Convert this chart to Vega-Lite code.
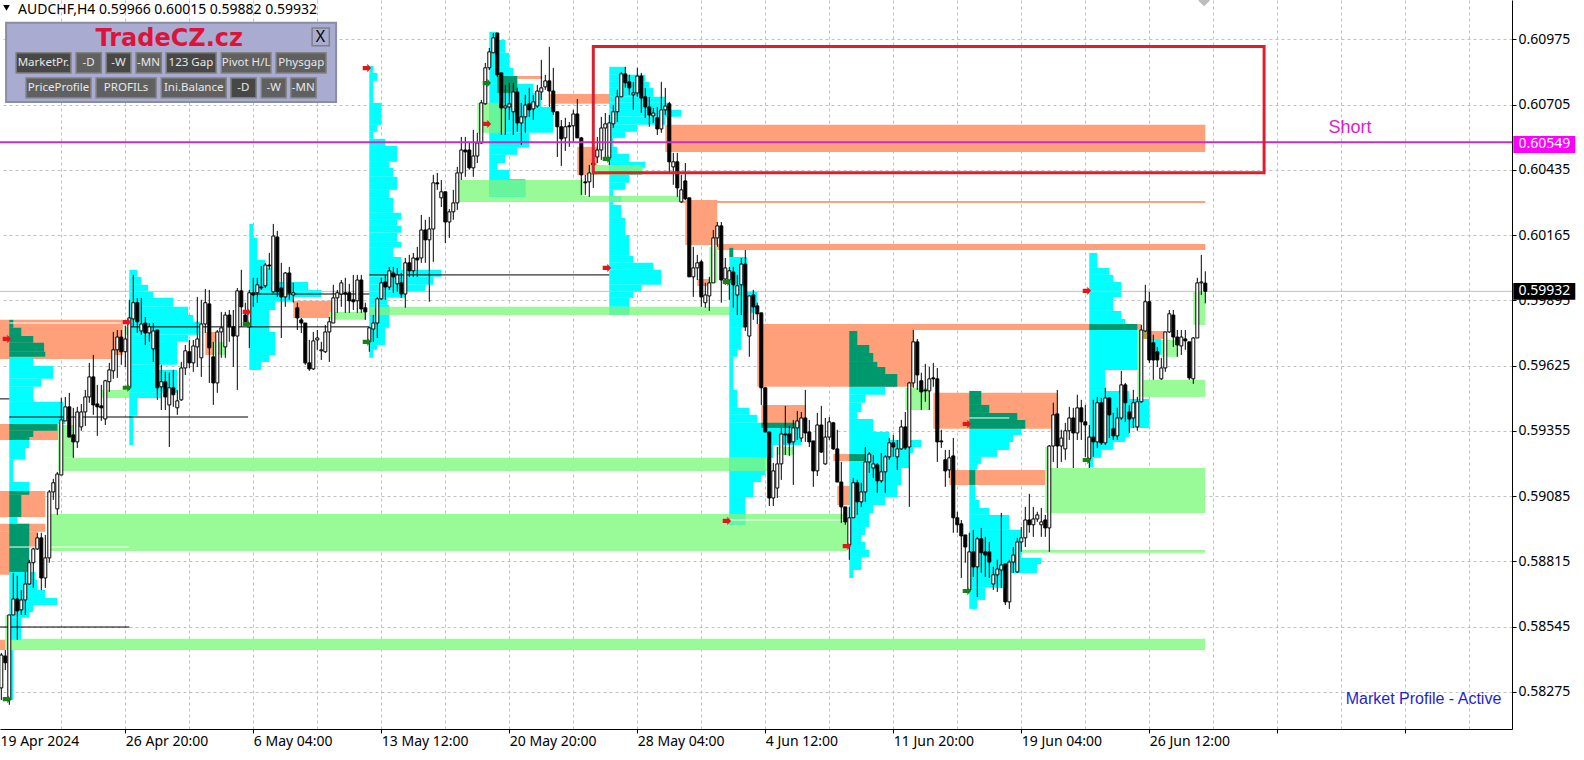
{
"$schema":"https://vega.github.io/schema/vega-lite/v6.json",
"width":1512,"height":729,"autosize":{"type":"none"},"padding":{"left":0,"top":0,"right":72,"bottom":31},
"background":"#ffffff",
"config":{"view":{"stroke":null}},
"datasets":{
"rects":[
{"a":-0.33,"b":30.4,"hi":0.59814,"lo":0.59669,"k":"S"},{"a":-0.33,"b":27.7,"hi":0.59669,"lo":0.59652,"k":"S"},{"a":-0.33,"b":14.2,"hi":0.59383,"lo":0.59317,"k":"S"},{"a":-0.33,"b":11,"hi":0.59106,"lo":0.58998,"k":"S"},{"a":-0.33,"b":11,"hi":0.5897,"lo":0.58937,"k":"S"},{"a":-0.33,"b":9,"hi":0.58937,"lo":0.5887,"k":"S"},{"a":-0.33,"b":6.7,"hi":0.5887,"lo":0.58759,"k":"S"},{"a":-0.33,"b":1,"hi":0.5849,"lo":0.58448,"k":"S"},
{"a":51,"b":54,"hi":0.59764,"lo":0.59669,"k":"S"},{"a":73,"b":82.7,"hi":0.59893,"lo":0.59822,"k":"S"},{"a":144,"b":149,"hi":0.6053,"lo":0.60414,"k":"S"},{"a":137.2,"b":152.2,"hi":0.60749,"lo":0.60708,"k":"S"},{"a":129,"b":135.2,"hi":0.60823,"lo":0.60811,"k":"S"},{"a":166,"b":301,"hi":0.60621,"lo":0.60509,"k":"S"},{"a":170,"b":301,"hi":0.60306,"lo":0.60298,"k":"S"},{"a":171,"b":179,"hi":0.6031,"lo":0.60124,"k":"S"},{"a":179,"b":301,"hi":0.60128,"lo":0.60103,"k":"S"},{"a":174,"b":177,"hi":0.59983,"lo":0.59954,"k":"S"},{"a":189,"b":285,"hi":0.59797,"lo":0.59772,"k":"S"},{"a":189,"b":228,"hi":0.59772,"lo":0.59537,"k":"S"},{"a":190,"b":201,"hi":0.59462,"lo":0.59371,"k":"S"},{"a":233,"b":264,"hi":0.59512,"lo":0.59363,"k":"S"},{"a":237,"b":261,"hi":0.59193,"lo":0.59131,"k":"S"},{"a":286.5,"b":291,"hi":0.59768,"lo":0.59735,"k":"S"},{"a":209,"b":213,"hi":0.59127,"lo":0.59048,"k":"S"},{"a":208,"b":216,"hi":0.59259,"lo":0.5923,"k":"S"},
{"a":1,"b":301,"hi":0.58494,"lo":0.58448,"k":"G"},{"a":11.7,"b":211.5,"hi":0.59011,"lo":0.58858,"k":"G"},{"a":14.2,"b":191.5,"hi":0.59243,"lo":0.59189,"k":"G"},{"a":25,"b":39.7,"hi":0.59524,"lo":0.59491,"k":"G"},{"a":82,"b":91,"hi":0.59847,"lo":0.59814,"k":"G"},{"a":94.7,"b":184,"hi":0.59868,"lo":0.59834,"k":"G"},{"a":114,"b":145.4,"hi":0.60393,"lo":0.60302,"k":"G"},{"a":145.4,"b":170,"hi":0.60327,"lo":0.60302,"k":"G"},{"a":147.2,"b":160.4,"hi":0.60455,"lo":0.60414,"k":"G"},{"a":119,"b":126,"hi":0.60712,"lo":0.60588,"k":"G"},{"a":262,"b":301,"hi":0.59201,"lo":0.59015,"k":"G"},{"a":261,"b":262,"hi":0.59288,"lo":0.59015,"k":"G"},{"a":254.7,"b":301,"hi":0.58862,"lo":0.5885,"k":"G"},{"a":285.5,"b":301,"hi":0.59566,"lo":0.59495,"k":"G"},{"a":284,"b":285.5,"hi":0.59772,"lo":0.59495,"k":"G"},{"a":298,"b":301,"hi":0.5993,"lo":0.59793,"k":"G"},{"a":290,"b":294,"hi":0.59731,"lo":0.59661,"k":"G"},{"a":226,"b":232,"hi":0.59533,"lo":0.59441,"k":"G"},{"a":177,"b":179,"hi":0.60116,"lo":0.59967,"k":"G"},{"a":194,"b":198,"hi":0.59288,"lo":0.59255,"k":"G"},{"a":215,"b":218,"hi":0.59181,"lo":0.59148,"k":"G"},{"a":53,"b":56,"hi":0.59723,"lo":0.59669,"k":"G"},{"a":31,"b":34,"hi":0.59785,"lo":0.59752,"k":"G"},{"a":14.2,"b":18,"hi":0.59379,"lo":0.59243,"k":"G"},{"a":1,"b":3,"hi":0.58593,"lo":0.5849,"k":"G"},
{"a":2,"b":8,"hi":0.59661,"lo":0.59623,"k":"C"},{"a":2,"b":13,"hi":0.59623,"lo":0.5957,"k":"C"},{"a":2,"b":10,"hi":0.5957,"lo":0.59537,"k":"C"},{"a":2,"b":8,"hi":0.59537,"lo":0.59475,"k":"C"},{"a":2,"b":15.5,"hi":0.59475,"lo":0.59412,"k":"C"},{"a":2,"b":16,"hi":0.59412,"lo":0.59383,"k":"C"},{"a":2,"b":7,"hi":0.59317,"lo":0.59284,"k":"C"},{"a":2,"b":6,"hi":0.59284,"lo":0.59235,"k":"C"},{"a":2,"b":3,"hi":0.59235,"lo":0.59143,"k":"C"},{"a":2,"b":7,"hi":0.59143,"lo":0.59106,"k":"C"},{"a":2,"b":4,"hi":0.58998,"lo":0.5897,"k":"C"},{"a":2,"b":8.5,"hi":0.58771,"lo":0.58738,"k":"C"},{"a":2,"b":9,"hi":0.58738,"lo":0.58696,"k":"C"},{"a":2,"b":11,"hi":0.58696,"lo":0.58663,"k":"C"},{"a":2,"b":14,"hi":0.58663,"lo":0.58634,"k":"C"},{"a":2,"b":8,"hi":0.58634,"lo":0.58605,"k":"C"},{"a":2,"b":7,"hi":0.58605,"lo":0.58581,"k":"C"},{"a":2,"b":5,"hi":0.58581,"lo":0.5849,"k":"C"},{"a":2,"b":3,"hi":0.58448,"lo":0.58241,"k":"C"},
{"a":2,"b":3,"hi":0.59814,"lo":0.59781,"k":"T"},{"a":2,"b":5,"hi":0.59781,"lo":0.59747,"k":"T"},{"a":2,"b":8,"hi":0.59747,"lo":0.59719,"k":"T"},{"a":2,"b":10.7,"hi":0.59719,"lo":0.59682,"k":"T"},{"a":2,"b":11,"hi":0.59682,"lo":0.59661,"k":"T"},{"a":2,"b":14,"hi":0.59383,"lo":0.59355,"k":"T"},{"a":2,"b":8,"hi":0.59355,"lo":0.59329,"k":"T"},{"a":2,"b":7,"hi":0.59329,"lo":0.59317,"k":"T"},{"a":2,"b":7,"hi":0.59106,"lo":0.5909,"k":"T"},{"a":2,"b":5,"hi":0.5909,"lo":0.58998,"k":"T"},{"a":2,"b":7,"hi":0.5897,"lo":0.58771,"k":"T"},
{"a":32,"b":34,"hi":0.60021,"lo":0.59992,"k":"C"},{"a":32,"b":35,"hi":0.59992,"lo":0.59959,"k":"C"},{"a":32,"b":36.7,"hi":0.59959,"lo":0.5993,"k":"C"},{"a":32,"b":38,"hi":0.5993,"lo":0.59905,"k":"C"},{"a":32,"b":43,"hi":0.59905,"lo":0.59868,"k":"C"},{"a":32,"b":46.7,"hi":0.59868,"lo":0.59834,"k":"C"},{"a":32,"b":48,"hi":0.59834,"lo":0.59806,"k":"C"},{"a":32,"b":49.7,"hi":0.59806,"lo":0.59752,"k":"C"},{"a":32,"b":46.7,"hi":0.59752,"lo":0.59723,"k":"C"},{"a":32,"b":44,"hi":0.59723,"lo":0.59628,"k":"C"},{"a":32,"b":39,"hi":0.59628,"lo":0.59607,"k":"C"},{"a":32,"b":44,"hi":0.59607,"lo":0.59512,"k":"C"},{"a":32,"b":40,"hi":0.59512,"lo":0.59491,"k":"C"},{"a":32,"b":34,"hi":0.59491,"lo":0.59417,"k":"C"},{"a":32,"b":33,"hi":0.59417,"lo":0.59296,"k":"C"},
{"a":62,"b":63,"hi":0.60211,"lo":0.60153,"k":"C"},{"a":62,"b":64,"hi":0.60153,"lo":0.60062,"k":"C"},{"a":62,"b":66,"hi":0.60062,"lo":0.60029,"k":"C"},{"a":62,"b":68.5,"hi":0.60029,"lo":0.59971,"k":"C"},{"a":62,"b":76.7,"hi":0.59971,"lo":0.59938,"k":"C"},{"a":62,"b":80,"hi":0.59938,"lo":0.59909,"k":"C"},{"a":62,"b":73,"hi":0.59909,"lo":0.59889,"k":"C"},{"a":62,"b":68.5,"hi":0.59889,"lo":0.59855,"k":"C"},{"a":62,"b":67,"hi":0.59855,"lo":0.59764,"k":"C"},{"a":62,"b":68.5,"hi":0.59764,"lo":0.59669,"k":"C"},{"a":62,"b":67,"hi":0.59669,"lo":0.5964,"k":"C"},{"a":62,"b":65,"hi":0.5964,"lo":0.59607,"k":"C"},
{"a":92,"b":93,"hi":0.60865,"lo":0.60836,"k":"C"},{"a":92,"b":94,"hi":0.60836,"lo":0.60803,"k":"C"},{"a":92,"b":93,"hi":0.60803,"lo":0.60712,"k":"C"},{"a":92,"b":95,"hi":0.60712,"lo":0.60621,"k":"C"},{"a":92,"b":94,"hi":0.60621,"lo":0.60592,"k":"C"},{"a":92,"b":93,"hi":0.60592,"lo":0.60563,"k":"C"},{"a":92,"b":96,"hi":0.60563,"lo":0.60534,"k":"C"},{"a":92,"b":99,"hi":0.60534,"lo":0.60468,"k":"C"},{"a":92,"b":97,"hi":0.60468,"lo":0.60443,"k":"C"},{"a":92,"b":98,"hi":0.60443,"lo":0.60406,"k":"C"},{"a":92,"b":99,"hi":0.60406,"lo":0.60352,"k":"C"},{"a":92,"b":97,"hi":0.60352,"lo":0.60319,"k":"C"},{"a":92,"b":98,"hi":0.60319,"lo":0.60257,"k":"C"},{"a":92,"b":100,"hi":0.60257,"lo":0.60228,"k":"C"},{"a":92,"b":99,"hi":0.60228,"lo":0.60203,"k":"C"},{"a":92,"b":100,"hi":0.60203,"lo":0.60174,"k":"C"},{"a":92,"b":99,"hi":0.60174,"lo":0.60137,"k":"C"},{"a":92,"b":100,"hi":0.60137,"lo":0.60112,"k":"C"},{"a":92,"b":98,"hi":0.60112,"lo":0.60074,"k":"C"},{"a":92,"b":100,"hi":0.60074,"lo":0.60021,"k":"C"},{"a":92,"b":110,"hi":0.60021,"lo":0.59992,"k":"C"},{"a":92,"b":108,"hi":0.59992,"lo":0.59959,"k":"C"},{"a":92,"b":106,"hi":0.59959,"lo":0.5993,"k":"C"},{"a":92,"b":101,"hi":0.5993,"lo":0.59905,"k":"C"},{"a":92,"b":96.5,"hi":0.59905,"lo":0.59876,"k":"C"},{"a":92,"b":97,"hi":0.59876,"lo":0.59781,"k":"C"},{"a":92,"b":96,"hi":0.59781,"lo":0.5971,"k":"C"},{"a":92,"b":94,"hi":0.5971,"lo":0.5969,"k":"C"},{"a":92,"b":93,"hi":0.5969,"lo":0.59657,"k":"C"},
{"a":122,"b":124,"hi":0.61006,"lo":0.60972,"k":"C"},{"a":122,"b":126,"hi":0.60972,"lo":0.60919,"k":"C"},{"a":122,"b":127,"hi":0.60919,"lo":0.60857,"k":"C"},{"a":122,"b":128,"hi":0.60857,"lo":0.60823,"k":"C"},{"a":122,"b":129,"hi":0.60823,"lo":0.60791,"k":"C"},{"a":122,"b":133,"hi":0.60791,"lo":0.60753,"k":"C"},{"a":122,"b":135,"hi":0.60753,"lo":0.60695,"k":"C"},{"a":122,"b":138,"hi":0.60695,"lo":0.60588,"k":"C"},{"a":122,"b":132,"hi":0.60588,"lo":0.60526,"k":"C"},{"a":122,"b":129,"hi":0.60526,"lo":0.60497,"k":"C"},{"a":122,"b":126,"hi":0.60497,"lo":0.60463,"k":"C"},{"a":122,"b":124,"hi":0.60463,"lo":0.60435,"k":"C"},{"a":122,"b":127,"hi":0.60435,"lo":0.60397,"k":"C"},{"a":122,"b":131,"hi":0.60397,"lo":0.60323,"k":"C"},
{"a":124,"b":129,"hi":0.60823,"lo":0.60753,"k":"T"},{"a":122,"b":131,"hi":0.60393,"lo":0.60323,"k":"M"},{"a":122,"b":126,"hi":0.60712,"lo":0.60588,"k":"M"},
{"a":152,"b":156,"hi":0.60861,"lo":0.60828,"k":"C"},{"a":152,"b":161,"hi":0.60828,"lo":0.60799,"k":"C"},{"a":152,"b":162,"hi":0.60799,"lo":0.60774,"k":"C"},{"a":152,"b":163,"hi":0.60774,"lo":0.60737,"k":"C"},{"a":152,"b":166,"hi":0.60737,"lo":0.60712,"k":"C"},{"a":152,"b":167,"hi":0.60712,"lo":0.60683,"k":"C"},{"a":152,"b":170,"hi":0.60683,"lo":0.60654,"k":"C"},{"a":152,"b":166,"hi":0.60654,"lo":0.60621,"k":"C"},{"a":152,"b":159,"hi":0.60621,"lo":0.60592,"k":"C"},{"a":152,"b":156,"hi":0.60592,"lo":0.60567,"k":"C"},{"a":152,"b":153,"hi":0.60567,"lo":0.6053,"k":"C"},{"a":152,"b":154,"hi":0.6053,"lo":0.60501,"k":"C"},{"a":152,"b":157,"hi":0.60501,"lo":0.60468,"k":"C"},{"a":152,"b":161,"hi":0.60468,"lo":0.60443,"k":"C"},{"a":152,"b":160,"hi":0.60443,"lo":0.60414,"k":"C"},{"a":152,"b":157,"hi":0.60414,"lo":0.60381,"k":"C"},{"a":152,"b":156,"hi":0.60381,"lo":0.60352,"k":"C"},{"a":152,"b":153,"hi":0.60352,"lo":0.6029,"k":"C"},{"a":152,"b":155,"hi":0.6029,"lo":0.60236,"k":"C"},{"a":152,"b":156,"hi":0.60236,"lo":0.60165,"k":"C"},{"a":152,"b":157,"hi":0.60165,"lo":0.60079,"k":"C"},{"a":152,"b":158,"hi":0.60079,"lo":0.6005,"k":"C"},{"a":152,"b":163,"hi":0.6005,"lo":0.60021,"k":"C"},{"a":152,"b":165,"hi":0.60021,"lo":0.59959,"k":"C"},{"a":152,"b":160,"hi":0.59959,"lo":0.5993,"k":"C"},{"a":152,"b":158,"hi":0.5993,"lo":0.59905,"k":"C"},{"a":152,"b":157,"hi":0.59905,"lo":0.59868,"k":"C"},
{"a":152,"b":157,"hi":0.59868,"lo":0.59834,"k":"M"},{"a":152,"b":155,"hi":0.60327,"lo":0.60302,"k":"M"},{"a":152,"b":160,"hi":0.60455,"lo":0.60414,"k":"M"},{"a":92,"b":97,"hi":0.59868,"lo":0.59834,"k":"M"},
{"a":182,"b":186.5,"hi":0.60074,"lo":0.59959,"k":"C"},{"a":182,"b":186,"hi":0.59959,"lo":0.5993,"k":"C"},{"a":182,"b":189,"hi":0.5993,"lo":0.59843,"k":"C"},{"a":182,"b":186,"hi":0.59843,"lo":0.59781,"k":"C"},{"a":182,"b":185,"hi":0.59781,"lo":0.5969,"k":"C"},{"a":182,"b":184,"hi":0.5969,"lo":0.59661,"k":"C"},{"a":182,"b":183,"hi":0.59661,"lo":0.59524,"k":"C"},{"a":182,"b":184,"hi":0.59524,"lo":0.5945,"k":"C"},{"a":182,"b":187,"hi":0.5945,"lo":0.59421,"k":"C"},{"a":182,"b":189,"hi":0.59421,"lo":0.59388,"k":"C"},{"a":182,"b":191,"hi":0.59388,"lo":0.59243,"k":"C"},{"a":182,"b":190,"hi":0.59243,"lo":0.59193,"k":"C"},{"a":182,"b":191,"hi":0.59193,"lo":0.59172,"k":"C"},{"a":182,"b":190,"hi":0.59172,"lo":0.59143,"k":"C"},{"a":182,"b":188,"hi":0.59143,"lo":0.59081,"k":"C"},{"a":182,"b":186,"hi":0.59081,"lo":0.58966,"k":"C"},{"a":190,"b":200,"hi":0.59367,"lo":0.59296,"k":"C"},{"a":190,"b":193,"hi":0.59296,"lo":0.59243,"k":"C"},
{"a":182,"b":183,"hi":0.60112,"lo":0.60074,"k":"T"},{"a":190,"b":198.5,"hi":0.59388,"lo":0.59367,"k":"T"},{"a":182,"b":186,"hi":0.59011,"lo":0.58966,"k":"M"},{"a":182,"b":191,"hi":0.59243,"lo":0.59189,"k":"M"},
{"a":212,"b":221,"hi":0.59537,"lo":0.59504,"k":"C"},{"a":212,"b":216,"hi":0.59504,"lo":0.59471,"k":"C"},{"a":212,"b":215,"hi":0.59471,"lo":0.59433,"k":"C"},{"a":212,"b":214,"hi":0.59433,"lo":0.59404,"k":"C"},{"a":212,"b":218,"hi":0.59404,"lo":0.5935,"k":"C"},{"a":212,"b":222,"hi":0.5935,"lo":0.59317,"k":"C"},{"a":212,"b":230,"hi":0.59317,"lo":0.59288,"k":"C"},{"a":212,"b":228,"hi":0.59288,"lo":0.59263,"k":"C"},{"a":212,"b":227,"hi":0.59263,"lo":0.59201,"k":"C"},{"a":212,"b":225,"hi":0.59201,"lo":0.59131,"k":"C"},{"a":212,"b":224,"hi":0.59131,"lo":0.59081,"k":"C"},{"a":212,"b":221,"hi":0.59081,"lo":0.59048,"k":"C"},{"a":212,"b":218,"hi":0.59048,"lo":0.59015,"k":"C"},{"a":212,"b":217,"hi":0.59015,"lo":0.58957,"k":"C"},{"a":212,"b":216,"hi":0.58957,"lo":0.58924,"k":"C"},{"a":212,"b":215,"hi":0.58924,"lo":0.58895,"k":"C"},{"a":212,"b":216,"hi":0.58895,"lo":0.58862,"k":"C"},{"a":212,"b":217,"hi":0.58862,"lo":0.58833,"k":"C"},{"a":212,"b":215,"hi":0.58833,"lo":0.58779,"k":"C"},{"a":212,"b":213,"hi":0.58779,"lo":0.58746,"k":"C"},
{"a":212,"b":214,"hi":0.59768,"lo":0.5971,"k":"T"},{"a":212,"b":217,"hi":0.5971,"lo":0.59677,"k":"T"},{"a":212,"b":218,"hi":0.59677,"lo":0.5964,"k":"T"},{"a":212,"b":219,"hi":0.5964,"lo":0.59619,"k":"T"},{"a":212,"b":221,"hi":0.59619,"lo":0.5959,"k":"T"},{"a":212,"b":224,"hi":0.5959,"lo":0.59537,"k":"T"},{"a":212,"b":216,"hi":0.59259,"lo":0.5923,"k":"T"},
{"a":242,"b":255,"hi":0.59363,"lo":0.59338,"k":"C"},{"a":242,"b":253,"hi":0.59338,"lo":0.59309,"k":"C"},{"a":242,"b":252,"hi":0.59309,"lo":0.59276,"k":"C"},{"a":242,"b":249,"hi":0.59276,"lo":0.59247,"k":"C"},{"a":242,"b":245,"hi":0.59247,"lo":0.59218,"k":"C"},{"a":242,"b":244,"hi":0.59218,"lo":0.59193,"k":"C"},{"a":242,"b":243.5,"hi":0.59131,"lo":0.59069,"k":"C"},{"a":242,"b":244.5,"hi":0.59069,"lo":0.59036,"k":"C"},{"a":242,"b":247,"hi":0.59036,"lo":0.59007,"k":"C"},{"a":242,"b":252,"hi":0.59007,"lo":0.58945,"k":"C"},{"a":242,"b":255,"hi":0.58945,"lo":0.58829,"k":"C"},{"a":242,"b":260,"hi":0.58829,"lo":0.58804,"k":"C"},{"a":242,"b":259,"hi":0.58804,"lo":0.58767,"k":"C"},{"a":242,"b":252,"hi":0.58767,"lo":0.58705,"k":"C"},{"a":242,"b":246,"hi":0.58705,"lo":0.58655,"k":"C"},{"a":242,"b":244,"hi":0.58655,"lo":0.58618,"k":"C"},
{"a":242,"b":245,"hi":0.5952,"lo":0.59462,"k":"T"},{"a":242,"b":247,"hi":0.59462,"lo":0.59429,"k":"T"},{"a":242,"b":254,"hi":0.59429,"lo":0.594,"k":"T"},{"a":242,"b":256,"hi":0.594,"lo":0.59363,"k":"T"},{"a":242,"b":243.5,"hi":0.59193,"lo":0.59131,"k":"T"},
{"a":272,"b":274,"hi":0.60091,"lo":0.60029,"k":"C"},{"a":272,"b":277,"hi":0.60029,"lo":0.6,"k":"C"},{"a":272,"b":278,"hi":0.6,"lo":0.59971,"k":"C"},{"a":272,"b":280,"hi":0.59971,"lo":0.59909,"k":"C"},{"a":272,"b":278,"hi":0.59909,"lo":0.59851,"k":"C"},{"a":272,"b":280,"hi":0.59851,"lo":0.59818,"k":"C"},{"a":272,"b":281,"hi":0.59818,"lo":0.59797,"k":"C"},{"a":272,"b":284,"hi":0.59772,"lo":0.59607,"k":"C"},{"a":272,"b":276,"hi":0.59607,"lo":0.5952,"k":"C"},{"a":272,"b":282,"hi":0.5952,"lo":0.59487,"k":"C"},{"a":272,"b":287,"hi":0.59487,"lo":0.59367,"k":"C"},{"a":272,"b":282,"hi":0.59367,"lo":0.59329,"k":"C"},{"a":272,"b":281,"hi":0.59329,"lo":0.59309,"k":"C"},{"a":272,"b":278,"hi":0.59309,"lo":0.59276,"k":"C"},{"a":272,"b":275,"hi":0.59276,"lo":0.59243,"k":"C"},{"a":272,"b":273,"hi":0.59243,"lo":0.59205,"k":"C"},{"a":286.5,"b":290,"hi":0.59735,"lo":0.59669,"k":"C"},
{"a":272,"b":284,"hi":0.59797,"lo":0.59772,"k":"T"},{"a":285.5,"b":287,"hi":0.59768,"lo":0.59735,"k":"O"}
],
"lines":[
{"a":-0.33,"b":2,"p":0.59487,"k":"K"},{"a":2,"b":61.7,"p":0.59412,"k":"K"},{"a":32,"b":92,"p":0.59785,"k":"K"},{"a":62,"b":92,"p":0.59921,"k":"K"},{"a":92,"b":152,"p":0.6,"k":"K"},{"a":-0.33,"b":32,"p":0.58543,"k":"K"},
{"a":182,"b":211,"p":0.58986,"k":"W"},{"a":242,"b":252,"p":0.59408,"k":"W"},{"a":2,"b":30,"p":0.59801,"k":"W"},{"a":2,"b":32,"p":0.58874,"k":"W"}
],
"price":[{"p":0.59932}],
"level":[{"p":0.60549}],
"candles":[
{"i":0,"o":0.58291,"h":0.58436,"l":0.58241,"c":0.58427},{"i":1,"o":0.58423,"h":0.58448,"l":0.58365,"c":0.58395},{"i":2,"o":0.58241,"h":0.58593,"l":0.58221,"c":0.58593},{"i":3,"o":0.58593,"h":0.58767,"l":0.58593,"c":0.58659},{"i":4,"o":0.58659,"h":0.58755,"l":0.5849,"c":0.5861},{"i":5,"o":0.58614,"h":0.58696,"l":0.58593,"c":0.58655},{"i":6,"o":0.58655,"h":0.58771,"l":0.58593,"c":0.58721},{"i":7,"o":0.58721,"h":0.58821,"l":0.58717,"c":0.58809},{"i":8,"o":0.58809,"h":0.5887,"l":0.58705,"c":0.58866},{"i":9,"o":0.58866,"h":0.58933,"l":0.58862,"c":0.58912},
{"i":10,"o":0.58912,"h":0.58933,"l":0.58696,"c":0.58746},{"i":11,"o":0.58746,"h":0.58924,"l":0.58705,"c":0.58829},{"i":12,"o":0.58829,"h":0.5911,"l":0.58809,"c":0.59102},{"i":13,"o":0.59102,"h":0.59156,"l":0.59069,"c":0.5914},{"i":14,"o":0.59032,"h":0.59185,"l":0.59007,"c":0.59176},{"i":15,"o":0.59172,"h":0.59491,"l":0.59172,"c":0.594},{"i":16,"o":0.59396,"h":0.59495,"l":0.59396,"c":0.59454},{"i":17,"o":0.59454,"h":0.59512,"l":0.59329,"c":0.59329},{"i":18,"o":0.59338,"h":0.5945,"l":0.59243,"c":0.59309},{"i":19,"o":0.59309,"h":0.59454,"l":0.59284,"c":0.59433},
{"i":20,"o":0.59371,"h":0.59466,"l":0.59355,"c":0.59433},{"i":21,"o":0.59433,"h":0.59524,"l":0.59375,"c":0.59495},{"i":22,"o":0.59495,"h":0.59636,"l":0.59471,"c":0.59578},{"i":23,"o":0.59578,"h":0.59669,"l":0.59421,"c":0.59462},{"i":24,"o":0.59466,"h":0.59545,"l":0.59334,"c":0.59454},{"i":25,"o":0.59458,"h":0.59545,"l":0.59396,"c":0.5945},{"i":26,"o":0.59404,"h":0.59566,"l":0.59379,"c":0.59562},{"i":27,"o":0.59558,"h":0.59636,"l":0.59516,"c":0.59607},{"i":28,"o":0.59603,"h":0.59764,"l":0.5957,"c":0.5969},{"i":29,"o":0.5969,"h":0.59772,"l":0.59574,"c":0.59743},
{"i":30,"o":0.59743,"h":0.59772,"l":0.59628,"c":0.59682},{"i":31,"o":0.59682,"h":0.59789,"l":0.59619,"c":0.59735},{"i":32,"o":0.59533,"h":0.59897,"l":0.59524,"c":0.59822},{"i":33,"o":0.59818,"h":0.6,"l":0.59785,"c":0.59885},{"i":34,"o":0.59885,"h":0.59905,"l":0.5976,"c":0.59806},{"i":35,"o":0.59768,"h":0.59905,"l":0.59752,"c":0.59797},{"i":36,"o":0.59801,"h":0.59826,"l":0.5971,"c":0.5976},{"i":37,"o":0.5976,"h":0.59801,"l":0.59723,"c":0.59785},{"i":38,"o":0.59694,"h":0.59801,"l":0.5964,"c":0.59768},{"i":39,"o":0.59772,"h":0.59772,"l":0.59483,"c":0.59533},
{"i":40,"o":0.59537,"h":0.59628,"l":0.59441,"c":0.59558},{"i":41,"o":0.59558,"h":0.59599,"l":0.59441,"c":0.59495},{"i":42,"o":0.59462,"h":0.59595,"l":0.59288,"c":0.59533},{"i":43,"o":0.59533,"h":0.59607,"l":0.59454,"c":0.59504},{"i":44,"o":0.5945,"h":0.59524,"l":0.59421,"c":0.59479},{"i":45,"o":0.59483,"h":0.5964,"l":0.59479,"c":0.59615},{"i":46,"o":0.59615,"h":0.5971,"l":0.59586,"c":0.59686},{"i":47,"o":0.59682,"h":0.59731,"l":0.59615,"c":0.59636},{"i":48,"o":0.59636,"h":0.59731,"l":0.59599,"c":0.59706},{"i":49,"o":0.59702,"h":0.59909,"l":0.59619,"c":0.59735},
{"i":50,"o":0.59657,"h":0.59897,"l":0.59578,"c":0.59797},{"i":51,"o":0.59797,"h":0.59942,"l":0.5976,"c":0.59885},{"i":52,"o":0.5988,"h":0.59938,"l":0.59553,"c":0.59698},{"i":53,"o":0.59661,"h":0.59723,"l":0.59462,"c":0.59553},{"i":54,"o":0.59553,"h":0.59772,"l":0.59512,"c":0.59764},{"i":55,"o":0.59764,"h":0.59847,"l":0.59657,"c":0.59781},{"i":56,"o":0.59702,"h":0.59847,"l":0.59657,"c":0.59834},{"i":57,"o":0.59834,"h":0.59855,"l":0.59723,"c":0.59785},{"i":58,"o":0.59785,"h":0.59855,"l":0.59619,"c":0.59747},{"i":59,"o":0.59747,"h":0.59946,"l":0.59524,"c":0.59934},
{"i":60,"o":0.59934,"h":0.60021,"l":0.59785,"c":0.59868},{"i":61,"o":0.59834,"h":0.59885,"l":0.59793,"c":0.59806},{"i":62,"o":0.59785,"h":0.59938,"l":0.59698,"c":0.59926},{"i":63,"o":0.59926,"h":0.59988,"l":0.59868,"c":0.59917},{"i":64,"o":0.59926,"h":0.59988,"l":0.59885,"c":0.59959},{"i":65,"o":0.5995,"h":0.60037,"l":0.59938,"c":0.59946},{"i":66,"o":0.59955,"h":0.60049,"l":0.59946,"c":0.60041},{"i":67,"o":0.60041,"h":0.60091,"l":0.60021,"c":0.60037},{"i":68,"o":0.5993,"h":0.60211,"l":0.59926,"c":0.60161},{"i":69,"o":0.60157,"h":0.60182,"l":0.59909,"c":0.5993},
{"i":70,"o":0.59946,"h":0.6005,"l":0.59739,"c":0.59909},{"i":71,"o":0.59909,"h":0.60012,"l":0.59868,"c":0.60008},{"i":72,"o":0.60008,"h":0.60033,"l":0.59897,"c":0.59926},{"i":73,"o":0.59917,"h":0.59967,"l":0.59885,"c":0.59926},{"i":74,"o":0.59864,"h":0.59885,"l":0.59772,"c":0.59822},{"i":75,"o":0.59814,"h":0.59822,"l":0.5976,"c":0.59801},{"i":76,"o":0.59801,"h":0.59801,"l":0.59628,"c":0.59636},{"i":77,"o":0.59636,"h":0.59731,"l":0.59603,"c":0.59611},{"i":78,"o":0.59611,"h":0.59764,"l":0.59607,"c":0.59727},{"i":79,"o":0.59731,"h":0.59772,"l":0.5969,"c":0.59739},
{"i":80,"o":0.59686,"h":0.59723,"l":0.59648,"c":0.5969},{"i":81,"o":0.59682,"h":0.59793,"l":0.59677,"c":0.59764},{"i":82,"o":0.59764,"h":0.59826,"l":0.5964,"c":0.59806},{"i":83,"o":0.59801,"h":0.59959,"l":0.59801,"c":0.59905},{"i":84,"o":0.59905,"h":0.59938,"l":0.59843,"c":0.59926},{"i":85,"o":0.59921,"h":0.59979,"l":0.59868,"c":0.59967},{"i":86,"o":0.59926,"h":0.59988,"l":0.59843,"c":0.59921},{"i":87,"o":0.59926,"h":0.59963,"l":0.59843,"c":0.59893},{"i":88,"o":0.59897,"h":0.6,"l":0.59855,"c":0.59889},{"i":89,"o":0.59893,"h":0.6,"l":0.59843,"c":0.59979},
{"i":90,"o":0.59979,"h":0.6,"l":0.59843,"c":0.59859},{"i":91,"o":0.59864,"h":0.59885,"l":0.59814,"c":0.59847},{"i":92,"o":0.59723,"h":0.59785,"l":0.59682,"c":0.59781},{"i":93,"o":0.59776,"h":0.59834,"l":0.59723,"c":0.59801},{"i":94,"o":0.59801,"h":0.59909,"l":0.59739,"c":0.59901},{"i":95,"o":0.59901,"h":0.59988,"l":0.59897,"c":0.59967},{"i":96,"o":0.59971,"h":0.6,"l":0.59897,"c":0.5995},{"i":97,"o":0.5995,"h":0.60033,"l":0.59938,"c":0.60017},{"i":98,"o":0.60008,"h":0.60033,"l":0.59926,"c":0.59992},{"i":99,"o":0.59963,"h":0.60029,"l":0.5993,"c":0.6},
{"i":100,"o":0.59967,"h":0.60008,"l":0.59905,"c":0.59921},{"i":101,"o":0.59921,"h":0.6007,"l":0.59864,"c":0.6005},{"i":102,"o":0.6005,"h":0.60083,"l":0.59992,"c":0.60017},{"i":103,"o":0.60017,"h":0.60091,"l":0.59992,"c":0.6007},{"i":104,"o":0.6007,"h":0.60116,"l":0.59992,"c":0.60062},{"i":105,"o":0.6007,"h":0.60248,"l":0.6005,"c":0.60186},{"i":106,"o":0.60186,"h":0.60228,"l":0.6005,"c":0.60145},{"i":107,"o":0.60145,"h":0.6024,"l":0.59889,"c":0.6019},{"i":108,"o":0.6019,"h":0.60414,"l":0.60054,"c":0.60381},{"i":109,"o":0.60381,"h":0.60422,"l":0.60352,"c":0.60377},
{"i":110,"o":0.60319,"h":0.60393,"l":0.60281,"c":0.60344},{"i":111,"o":0.60344,"h":0.60344,"l":0.60132,"c":0.60219},{"i":112,"o":0.60219,"h":0.60273,"l":0.60153,"c":0.60261},{"i":113,"o":0.60261,"h":0.60352,"l":0.60228,"c":0.60298},{"i":114,"o":0.60298,"h":0.60447,"l":0.60269,"c":0.60422},{"i":115,"o":0.60422,"h":0.60571,"l":0.60393,"c":0.60517},{"i":116,"o":0.60517,"h":0.60571,"l":0.60406,"c":0.60509},{"i":117,"o":0.60517,"h":0.6055,"l":0.60435,"c":0.60443},{"i":118,"o":0.60443,"h":0.606,"l":0.60406,"c":0.60492},{"i":119,"o":0.60492,"h":0.60588,"l":0.60463,"c":0.60546},
{"i":120,"o":0.60546,"h":0.60724,"l":0.60542,"c":0.60712},{"i":121,"o":0.60708,"h":0.60877,"l":0.60704,"c":0.60857},{"i":122,"o":0.60857,"h":0.60939,"l":0.60848,"c":0.60923},{"i":123,"o":0.60919,"h":0.61001,"l":0.60919,"c":0.60981},{"i":124,"o":0.61001,"h":0.61001,"l":0.60819,"c":0.60828},{"i":125,"o":0.60836,"h":0.60836,"l":0.60579,"c":0.60691},{"i":126,"o":0.60691,"h":0.60786,"l":0.60579,"c":0.60699},{"i":127,"o":0.60695,"h":0.60795,"l":0.60641,"c":0.60708},{"i":128,"o":0.60675,"h":0.60795,"l":0.60579,"c":0.60757},{"i":129,"o":0.60757,"h":0.60774,"l":0.60592,"c":0.60629},
{"i":130,"o":0.60629,"h":0.60712,"l":0.60538,"c":0.60654},{"i":131,"o":0.60654,"h":0.60745,"l":0.60588,"c":0.60703},{"i":132,"o":0.60708,"h":0.60774,"l":0.60654,"c":0.60683},{"i":133,"o":0.60687,"h":0.60745,"l":0.60641,"c":0.60716},{"i":134,"o":0.60699,"h":0.60786,"l":0.60691,"c":0.60761},{"i":135,"o":0.60757,"h":0.6089,"l":0.60724,"c":0.60774},{"i":136,"o":0.60778,"h":0.60828,"l":0.60766,"c":0.60803},{"i":137,"o":0.60803,"h":0.60944,"l":0.60695,"c":0.60761},{"i":138,"o":0.60761,"h":0.60857,"l":0.60662,"c":0.60675},{"i":139,"o":0.60675,"h":0.60675,"l":0.60488,"c":0.60613},
{"i":140,"o":0.60613,"h":0.60641,"l":0.60451,"c":0.60563},{"i":141,"o":0.60567,"h":0.6065,"l":0.60513,"c":0.60613},{"i":142,"o":0.60617,"h":0.60633,"l":0.6053,"c":0.60613},{"i":143,"o":0.60617,"h":0.60683,"l":0.6055,"c":0.60666},{"i":144,"o":0.60666,"h":0.60728,"l":0.60567,"c":0.60567},{"i":145,"o":0.60567,"h":0.60571,"l":0.60331,"c":0.60414},{"i":146,"o":0.60385,"h":0.60414,"l":0.60331,"c":0.60381},{"i":147,"o":0.60385,"h":0.60455,"l":0.60323,"c":0.60422},{"i":148,"o":0.60463,"h":0.60505,"l":0.6036,"c":0.60455},{"i":149,"o":0.60488,"h":0.60571,"l":0.60463,"c":0.60517},
{"i":150,"o":0.60517,"h":0.60654,"l":0.60476,"c":0.60608},{"i":151,"o":0.60608,"h":0.6067,"l":0.60476,"c":0.60625},{"i":152,"o":0.60484,"h":0.60662,"l":0.60455,"c":0.60629},{"i":153,"o":0.60625,"h":0.60703,"l":0.60608,"c":0.60675},{"i":154,"o":0.60675,"h":0.60766,"l":0.60633,"c":0.60737},{"i":155,"o":0.60737,"h":0.6084,"l":0.60737,"c":0.60832},{"i":156,"o":0.60832,"h":0.60861,"l":0.60774,"c":0.60795},{"i":157,"o":0.60799,"h":0.60828,"l":0.60745,"c":0.60774},{"i":158,"o":0.60745,"h":0.60799,"l":0.60683,"c":0.60753},{"i":159,"o":0.60753,"h":0.60857,"l":0.60737,"c":0.60823},
{"i":160,"o":0.60823,"h":0.60836,"l":0.6067,"c":0.60732},{"i":161,"o":0.60737,"h":0.60774,"l":0.6065,"c":0.60695},{"i":162,"o":0.60695,"h":0.60737,"l":0.60613,"c":0.60662},{"i":163,"o":0.60658,"h":0.60691,"l":0.60629,"c":0.6067},{"i":164,"o":0.6065,"h":0.60695,"l":0.60579,"c":0.60604},{"i":165,"o":0.60604,"h":0.60799,"l":0.60588,"c":0.60683},{"i":166,"o":0.60683,"h":0.60774,"l":0.60662,"c":0.60699},{"i":167,"o":0.60708,"h":0.60716,"l":0.60426,"c":0.60468},{"i":168,"o":0.60447,"h":0.60505,"l":0.60373,"c":0.60468},{"i":169,"o":0.60468,"h":0.60505,"l":0.60323,"c":0.6036},
{"i":170,"o":0.60302,"h":0.60414,"l":0.60298,"c":0.60352},{"i":171,"o":0.60389,"h":0.60463,"l":0.6031,"c":0.60315},{"i":172,"o":0.60319,"h":0.60319,"l":0.59992,"c":0.59992},{"i":173,"o":0.59992,"h":0.60116,"l":0.59909,"c":0.60029},{"i":174,"o":0.60029,"h":0.60083,"l":0.59979,"c":0.6005},{"i":175,"o":0.60054,"h":0.60062,"l":0.59868,"c":0.59909},{"i":176,"o":0.59885,"h":0.59967,"l":0.59864,"c":0.59917},{"i":177,"o":0.59913,"h":0.59992,"l":0.59851,"c":0.59967},{"i":178,"o":0.59967,"h":0.60186,"l":0.59967,"c":0.60153},{"i":179,"o":0.60153,"h":0.60219,"l":0.60116,"c":0.60203},
{"i":180,"o":0.60203,"h":0.60219,"l":0.59885,"c":0.59979},{"i":181,"o":0.59983,"h":0.6007,"l":0.59959,"c":0.60029},{"i":182,"o":0.59979,"h":0.60033,"l":0.59897,"c":0.60017},{"i":183,"o":0.60012,"h":0.60033,"l":0.59864,"c":0.59959},{"i":184,"o":0.59917,"h":0.6,"l":0.59834,"c":0.59955},{"i":185,"o":0.59959,"h":0.6007,"l":0.59834,"c":0.60045},{"i":186,"o":0.60045,"h":0.60103,"l":0.59768,"c":0.59785},{"i":187,"o":0.59747,"h":0.59917,"l":0.59661,"c":0.59913},{"i":188,"o":0.59917,"h":0.59938,"l":0.59814,"c":0.59868},{"i":189,"o":0.59872,"h":0.59885,"l":0.59797,"c":0.59839},
{"i":190,"o":0.59843,"h":0.59843,"l":0.59462,"c":0.59533},{"i":191,"o":0.59533,"h":0.59533,"l":0.5935,"c":0.5935},{"i":192,"o":0.5935,"h":0.5935,"l":0.59044,"c":0.59077},{"i":193,"o":0.59077,"h":0.59222,"l":0.59044,"c":0.59189},{"i":194,"o":0.59118,"h":0.59288,"l":0.59077,"c":0.59218},{"i":195,"o":0.59218,"h":0.59367,"l":0.59152,"c":0.59342},{"i":196,"o":0.59342,"h":0.59458,"l":0.59255,"c":0.59338},{"i":197,"o":0.59342,"h":0.59375,"l":0.59251,"c":0.59305},{"i":198,"o":0.59309,"h":0.594,"l":0.59131,"c":0.59367},{"i":199,"o":0.59367,"h":0.59437,"l":0.59317,"c":0.59396},
{"i":200,"o":0.59325,"h":0.59433,"l":0.59309,"c":0.59408},{"i":201,"o":0.59408,"h":0.59524,"l":0.59309,"c":0.59346},{"i":202,"o":0.5935,"h":0.594,"l":0.59288,"c":0.59309},{"i":203,"o":0.59313,"h":0.59313,"l":0.59123,"c":0.59189},{"i":204,"o":0.59189,"h":0.59429,"l":0.59168,"c":0.59379},{"i":205,"o":0.59379,"h":0.59458,"l":0.59263,"c":0.59267},{"i":206,"o":0.59218,"h":0.59408,"l":0.59214,"c":0.59329},{"i":207,"o":0.59329,"h":0.59412,"l":0.59317,"c":0.59392},{"i":208,"o":0.59388,"h":0.59392,"l":0.59276,"c":0.5928},{"i":209,"o":0.5928,"h":0.59359,"l":0.59143,"c":0.59143},
{"i":210,"o":0.59143,"h":0.59226,"l":0.58974,"c":0.5904},{"i":211,"o":0.5904,"h":0.5904,"l":0.58966,"c":0.58978},{"i":212,"o":0.58883,"h":0.5904,"l":0.58821,"c":0.58995},{"i":213,"o":0.58995,"h":0.5916,"l":0.58995,"c":0.5914},{"i":214,"o":0.5914,"h":0.59152,"l":0.59007,"c":0.59061},{"i":215,"o":0.59061,"h":0.5914,"l":0.5904,"c":0.59102},{"i":216,"o":0.59102,"h":0.59288,"l":0.59061,"c":0.59226},{"i":217,"o":0.59226,"h":0.59267,"l":0.59181,"c":0.59259},{"i":218,"o":0.59201,"h":0.59255,"l":0.5916,"c":0.59218},{"i":219,"o":0.59214,"h":0.59222,"l":0.59098,"c":0.59148},
{"i":220,"o":0.59148,"h":0.59263,"l":0.5914,"c":0.59185},{"i":221,"o":0.59185,"h":0.59255,"l":0.59098,"c":0.59247},{"i":222,"o":0.59247,"h":0.59325,"l":0.59235,"c":0.59305},{"i":223,"o":0.59305,"h":0.59338,"l":0.59247,"c":0.59288},{"i":224,"o":0.59247,"h":0.59317,"l":0.59193,"c":0.5928},{"i":225,"o":0.5928,"h":0.594,"l":0.59276,"c":0.59371},{"i":226,"o":0.59371,"h":0.59433,"l":0.59276,"c":0.59284},{"i":227,"o":0.59288,"h":0.59558,"l":0.5904,"c":0.59553},{"i":228,"o":0.59553,"h":0.59772,"l":0.59533,"c":0.59723},{"i":229,"o":0.59723,"h":0.59735,"l":0.59524,"c":0.59586},
{"i":230,"o":0.59562,"h":0.59595,"l":0.59441,"c":0.59516},{"i":231,"o":0.59524,"h":0.59632,"l":0.59475,"c":0.5952},{"i":232,"o":0.5952,"h":0.59619,"l":0.59441,"c":0.5957},{"i":233,"o":0.59574,"h":0.59636,"l":0.59537,"c":0.5957},{"i":234,"o":0.5957,"h":0.59615,"l":0.59226,"c":0.59309},{"i":235,"o":0.59313,"h":0.59359,"l":0.59284,"c":0.59309},{"i":236,"o":0.59235,"h":0.59276,"l":0.59123,"c":0.59189},{"i":237,"o":0.59193,"h":0.59276,"l":0.5916,"c":0.59243},{"i":238,"o":0.59251,"h":0.59325,"l":0.58933,"c":0.58995},{"i":239,"o":0.58995,"h":0.5902,"l":0.58933,"c":0.58966},
{"i":240,"o":0.5897,"h":0.58986,"l":0.58746,"c":0.5892},{"i":241,"o":0.58924,"h":0.58924,"l":0.58809,"c":0.58874},{"i":242,"o":0.58696,"h":0.58933,"l":0.58688,"c":0.58854},{"i":243,"o":0.58854,"h":0.58945,"l":0.5875,"c":0.58792},{"i":244,"o":0.58792,"h":0.58916,"l":0.58667,"c":0.58908},{"i":245,"o":0.58908,"h":0.58953,"l":0.58767,"c":0.5885},{"i":246,"o":0.58854,"h":0.58916,"l":0.5875,"c":0.58841},{"i":247,"o":0.58854,"h":0.58895,"l":0.58746,"c":0.58812},{"i":248,"o":0.58721,"h":0.58792,"l":0.58696,"c":0.58759},{"i":249,"o":0.58759,"h":0.58821,"l":0.58688,"c":0.58783},
{"i":250,"o":0.58779,"h":0.59015,"l":0.58705,"c":0.588},{"i":251,"o":0.58804,"h":0.58804,"l":0.58634,"c":0.58647},{"i":252,"o":0.58647,"h":0.58821,"l":0.58618,"c":0.58812},{"i":253,"o":0.58812,"h":0.58874,"l":0.58767,"c":0.58841},{"i":254,"o":0.58771,"h":0.58912,"l":0.58767,"c":0.58895},{"i":255,"o":0.58895,"h":0.58957,"l":0.58854,"c":0.58912},{"i":256,"o":0.58912,"h":0.5904,"l":0.58874,"c":0.58986},{"i":257,"o":0.58986,"h":0.59094,"l":0.58933,"c":0.58966},{"i":258,"o":0.58966,"h":0.5904,"l":0.58916,"c":0.5899},{"i":259,"o":0.5899,"h":0.5902,"l":0.58978,"c":0.59007},
{"i":260,"o":0.58966,"h":0.59036,"l":0.58916,"c":0.58978},{"i":261,"o":0.58986,"h":0.59007,"l":0.58916,"c":0.58953},{"i":262,"o":0.58953,"h":0.59296,"l":0.58854,"c":0.59292},{"i":263,"o":0.59292,"h":0.59471,"l":0.59226,"c":0.59421},{"i":264,"o":0.59425,"h":0.59524,"l":0.59201,"c":0.59292},{"i":265,"o":0.59292,"h":0.59359,"l":0.59226,"c":0.59325},{"i":266,"o":0.5928,"h":0.59388,"l":0.59235,"c":0.59355},{"i":267,"o":0.59355,"h":0.59454,"l":0.59317,"c":0.59408},{"i":268,"o":0.59408,"h":0.5945,"l":0.59201,"c":0.59346},{"i":269,"o":0.59346,"h":0.59504,"l":0.59317,"c":0.5945},
{"i":270,"o":0.5945,"h":0.59483,"l":0.59317,"c":0.59392},{"i":271,"o":0.59392,"h":0.59462,"l":0.59247,"c":0.59379},{"i":272,"o":0.59239,"h":0.59379,"l":0.59201,"c":0.59329},{"i":273,"o":0.59329,"h":0.59483,"l":0.59247,"c":0.59309},{"i":274,"o":0.59309,"h":0.59495,"l":0.59284,"c":0.59471},{"i":275,"o":0.59471,"h":0.59491,"l":0.59296,"c":0.59305},{"i":276,"o":0.59305,"h":0.59533,"l":0.59296,"c":0.59491},{"i":277,"o":0.59491,"h":0.59495,"l":0.59325,"c":0.59421},{"i":278,"o":0.59363,"h":0.59429,"l":0.59317,"c":0.59334},{"i":279,"o":0.59334,"h":0.5945,"l":0.59317,"c":0.59408},
{"i":280,"o":0.59408,"h":0.59603,"l":0.594,"c":0.59545},{"i":281,"o":0.59545,"h":0.59553,"l":0.59392,"c":0.59471},{"i":282,"o":0.59433,"h":0.59462,"l":0.59346,"c":0.59404},{"i":283,"o":0.59408,"h":0.59524,"l":0.59367,"c":0.59471},{"i":284,"o":0.59371,"h":0.59495,"l":0.59355,"c":0.59475},{"i":285,"o":0.59475,"h":0.59793,"l":0.59471,"c":0.59772},{"i":286,"o":0.59768,"h":0.59959,"l":0.59764,"c":0.59889},{"i":287,"o":0.59889,"h":0.5993,"l":0.59636,"c":0.59648},{"i":288,"o":0.59719,"h":0.59752,"l":0.59566,"c":0.59648},{"i":289,"o":0.59682,"h":0.59702,"l":0.59619,"c":0.59648},
{"i":290,"o":0.5957,"h":0.59657,"l":0.59566,"c":0.59615},{"i":291,"o":0.59615,"h":0.59764,"l":0.59599,"c":0.59764},{"i":292,"o":0.59764,"h":0.59855,"l":0.5976,"c":0.59839},{"i":293,"o":0.59834,"h":0.59855,"l":0.59702,"c":0.59743},{"i":294,"o":0.59743,"h":0.59772,"l":0.59661,"c":0.5971},{"i":295,"o":0.59706,"h":0.59772,"l":0.59669,"c":0.59743},{"i":296,"o":0.59735,"h":0.59772,"l":0.5969,"c":0.59727},{"i":297,"o":0.59723,"h":0.59723,"l":0.59566,"c":0.59574},{"i":298,"o":0.5957,"h":0.59743,"l":0.59549,"c":0.59739},{"i":299,"o":0.59739,"h":0.59988,"l":0.59739,"c":0.59967},
{"i":300,"o":0.59967,"h":0.60083,"l":0.59917,"c":0.59971},{"i":301,"o":0.59966,"h":0.60015,"l":0.59882,"c":0.59932}
],
"arrows":[
{"i":1.4,"p":0.59735,"k":"R"},{"i":31.4,"p":0.59805,"k":"R"},{"i":91.4,"p":0.60856,"k":"R"},{"i":61.4,"p":0.59847,"k":"R"},{"i":121.4,"p":0.60625,"k":"R"},{"i":151.4,"p":0.60029,"k":"R"},{"i":181.4,"p":0.58982,"k":"R"},{"i":211.4,"p":0.58878,"k":"R"},{"i":241.4,"p":0.59383,"k":"R"},{"i":271.4,"p":0.59934,"k":"R"},
{"i":1.4,"p":0.58245,"k":"N"},{"i":31.4,"p":0.59533,"k":"N"},{"i":61.4,"p":0.59797,"k":"N"},{"i":91.4,"p":0.59723,"k":"N"},{"i":121.4,"p":0.60794,"k":"N"},{"i":151.4,"p":0.60480,"k":"N"},{"i":181.4,"p":0.59971,"k":"N"},{"i":241.4,"p":0.58692,"k":"N"},{"i":271.4,"p":0.59234,"k":"N"}
],
"box":[{"a":148,"b":315.7,"hi":0.60945,"lo":0.60423}],
"tags":[{"a":378,"b":393.5,"hi":0.60575,"lo":0.60505,"k":"F"},{"a":378,"b":393.5,"hi":0.59967,"lo":0.59897,"k":"K"}],
"tagtext":[{"i":379.3,"p":0.60540,"s":"0.60549"},{"i":379.3,"p":0.59932,"s":"0.59932"}],
"panel":[{"a":1.2,"b":83.7,"hi":0.61043,"lo":0.60716}],
"buttons":[
{"a":3.7,"b":17.4,"hi":0.60919,"lo":0.60836,"k":"D"},{"a":18.7,"b":25,"hi":0.60919,"lo":0.60836,"k":"B"},{"a":26.2,"b":32.4,"hi":0.60919,"lo":0.60836,"k":"D"},{"a":33.7,"b":40,"hi":0.60919,"lo":0.60836,"k":"B"},{"a":41.2,"b":53.7,"hi":0.60919,"lo":0.60836,"k":"D"},{"a":55,"b":67.4,"hi":0.60919,"lo":0.60836,"k":"B"},{"a":68.7,"b":81.2,"hi":0.60919,"lo":0.60836,"k":"B"},
{"a":6.2,"b":22.4,"hi":0.60815,"lo":0.60733,"k":"B"},{"a":23.7,"b":38.7,"hi":0.60815,"lo":0.60733,"k":"B"},{"a":40,"b":56.2,"hi":0.60815,"lo":0.60733,"k":"B"},{"a":57.4,"b":63.7,"hi":0.60815,"lo":0.60733,"k":"D"},{"a":65,"b":71.2,"hi":0.60815,"lo":0.60733,"k":"B"},{"a":72.4,"b":78.7,"hi":0.60815,"lo":0.60733,"k":"B"},
{"a":77.7,"b":82,"hi":0.61022,"lo":0.60948,"k":"P"}
],
"buttontext":[
{"i":10.5,"p":0.60877,"s":"MarketPr."},{"i":21.8,"p":0.60877,"s":"-D"},{"i":29.3,"p":0.60877,"s":"-W"},{"i":36.8,"p":0.60877,"s":"-MN"},{"i":47.4,"p":0.60877,"s":"123 Gap"},{"i":61.2,"p":0.60877,"s":"Pivot H/L"},{"i":75,"p":0.60877,"s":"Physgap"},
{"i":14.3,"p":0.60774,"s":"PriceProfile"},{"i":31.2,"p":0.60774,"s":"PROFILs"},{"i":48.1,"p":0.60774,"s":"Ini.Balance"},{"i":60.5,"p":0.60774,"s":"-D"},{"i":68.1,"p":0.60774,"s":"-W"},{"i":75.5,"p":0.60774,"s":"-MN"}
]
},
"layer":[
{"data":{"name":"rects"},"mark":{"type":"rect"},"encoding":{
"x":{"field":"a","type":"quantitative","scale":{"domain":[-0.325,377.675],"nice":false,"zero":false,"padding":0},"axis":{"title":null,"orient":"bottom","values":[-0.32,15,31,47,63,79,95,111,127,143,159,175,191,207,223,239,255,271,287,303,319,335,351,367],"labelExpr":"datum.value<0 ? '19 Apr 2024' : ({'31':'26 Apr 20:00','63':'6 May 04:00','95':'13 May 12:00','127':'20 May 20:00','159':'28 May 04:00','191':'4 Jun 12:00','223':'11 Jun 20:00','255':'19 Jun 04:00','287':'26 Jun 12:00'}[datum.value] || '')","labelAlign":"left","labelBaseline":"middle","labelPadding":8,"labelOverlap":false,"labelBound":false,"labelFlush":false,"labelFont":"Noto Sans","labelFontSize":14,"labelColor":"#000000","tickColor":"#000000","tickSize":4,"tickOpacity":{"expr":"(datum.value+1)%32==0?1:0"},"domainColor":"#000000","grid":true,"gridColor":"#c0c0c0","gridDash":[3,3],"gridWidth":1,"gridOpacity":{"expr":"datum.value<0?0:1"}}},
"x2":{"field":"b"},
"y":{"field":"hi","type":"quantitative","scale":{"domain":[0.58121,0.611376],"nice":false,"zero":false},"axis":{"title":null,"orient":"right","values":[0.60975,0.60705,0.60435,0.60165,0.59895,0.59625,0.59355,0.59085,0.58815,0.58545,0.58275],"format":".5f","labelPadding":2,"labelOverlap":false,"labelFont":"Noto Sans","labelFontSize":14,"labelColor":"#000000","tickColor":"#000000","tickSize":4,"domainColor":"#000000","grid":true,"gridColor":"#c0c0c0","gridDash":[3,3],"gridWidth":1}},
"y2":{"field":"lo"},
"color":{"field":"k","type":"nominal","legend":null,"scale":{"domain":["S","G","C","T","M","O","K","W","R","N","F","P","B","D"],"range":["#FFA07A","#98FB98","#00FFFF","#00996E","#66F59A","#B5A04A","#000000","#FFFFFF","#E8141C","#1A7F1A","#FF00FF","#A9ACD0","#606060","#474747"]}}}},
{"data":{"name":"lines"},"mark":{"type":"rule","strokeWidth":1},"encoding":{
"x":{"field":"a","type":"quantitative","axis":{"title":null},"scale":{"domain":[-0.325,377.675],"nice":false,"zero":false,"padding":0}},"x2":{"field":"b"},
"y":{"field":"p","type":"quantitative","axis":{"title":null,"orient":"right"},"scale":{"domain":[0.58121,0.611376],"nice":false,"zero":false}},
"color":{"field":"k","type":"nominal","legend":null}}},
{"data":{"name":"price"},"mark":{"type":"rule","color":"#c0c0c0","strokeWidth":1},"encoding":{
"y":{"field":"p","type":"quantitative","axis":{"title":null,"orient":"right"},"scale":{"domain":[0.58121,0.611376],"nice":false,"zero":false}}}},
{"data":{"name":"candles"},"mark":{"type":"rule","color":"#000000","strokeWidth":1},"encoding":{
"x":{"field":"i","type":"quantitative","axis":{"title":null},"scale":{"domain":[-0.325,377.675],"nice":false,"zero":false,"padding":0}},
"y":{"field":"h","type":"quantitative","axis":{"title":null,"orient":"right"},"scale":{"domain":[0.58121,0.611376],"nice":false,"zero":false}},"y2":{"field":"l"}}},
{"data":{"name":"candles"},"mark":{"type":"bar","size":3,"stroke":"#000000","strokeWidth":1},"encoding":{
"x":{"field":"i","type":"quantitative","axis":{"title":null},"scale":{"domain":[-0.325,377.675],"nice":false,"zero":false,"padding":0}},
"y":{"field":"o","type":"quantitative","axis":{"title":null,"orient":"right"},"scale":{"domain":[0.58121,0.611376],"nice":false,"zero":false}},"y2":{"field":"c"},
"fill":{"condition":{"test":"datum.c>datum.o","value":"#ffffff"},"value":"#000000"}}},
{"data":{"name":"level"},"mark":{"type":"rule","color":"#C82DC8","strokeWidth":2},"encoding":{
"y":{"field":"p","type":"quantitative","axis":{"title":null,"orient":"right"},"scale":{"domain":[0.58121,0.611376],"nice":false,"zero":false}}}},
{"data":{"name":"arrows"},"mark":{"type":"point","filled":true,"size":70,"opacity":1,"shape":"M-1,-0.5L0.1,-0.5L0.1,-1L1,0L0.1,1L0.1,0.5L-1,0.5Z"},"encoding":{
"x":{"field":"i","type":"quantitative","axis":{"title":null},"scale":{"domain":[-0.325,377.675],"nice":false,"zero":false,"padding":0}},
"y":{"field":"p","type":"quantitative","axis":{"title":null,"orient":"right"},"scale":{"domain":[0.58121,0.611376],"nice":false,"zero":false}},
"color":{"field":"k","type":"nominal","legend":null}}},
{"data":{"name":"box"},"mark":{"type":"rect","fillOpacity":0,"stroke":"#DC1F2E","strokeWidth":3},"encoding":{
"x":{"field":"a","type":"quantitative","axis":{"title":null},"scale":{"domain":[-0.325,377.675],"nice":false,"zero":false,"padding":0}},"x2":{"field":"b"},
"y":{"field":"hi","type":"quantitative","axis":{"title":null,"orient":"right"},"scale":{"domain":[0.58121,0.611376],"nice":false,"zero":false}},"y2":{"field":"lo"}}},
{"data":{"name":"tags"},"mark":{"type":"rect"},"encoding":{
"x":{"field":"a","type":"quantitative","axis":{"title":null},"scale":{"domain":[-0.325,377.675],"nice":false,"zero":false,"padding":0}},"x2":{"field":"b"},
"y":{"field":"hi","type":"quantitative","axis":{"title":null,"orient":"right"},"scale":{"domain":[0.58121,0.611376],"nice":false,"zero":false}},"y2":{"field":"lo"},
"color":{"field":"k","type":"nominal","legend":null}}},
{"data":{"name":"tagtext"},"mark":{"type":"text","align":"left","baseline":"middle","font":"Noto Sans","fontSize":14,"color":"#ffffff"},"encoding":{
"x":{"field":"i","type":"quantitative","axis":{"title":null},"scale":{"domain":[-0.325,377.675],"nice":false,"zero":false,"padding":0}},
"y":{"field":"p","type":"quantitative","axis":{"title":null,"orient":"right"},"scale":{"domain":[0.58121,0.611376],"nice":false,"zero":false}},
"text":{"field":"s"}}},
{"data":{"values":[{"i":337.2,"p":0.60608,"s":"Short"}]},"mark":{"type":"text","align":"center","baseline":"middle","font":"Liberation Sans","fontSize":18,"color":"#E01BD0"},"encoding":{
"x":{"field":"i","type":"quantitative","axis":{"title":null},"scale":{"domain":[-0.325,377.675],"nice":false,"zero":false,"padding":0}},
"y":{"field":"p","type":"quantitative","axis":{"title":null,"orient":"right"},"scale":{"domain":[0.58121,0.611376],"nice":false,"zero":false}},
"text":{"field":"s"}}},
{"data":{"values":[{"i":375,"p":0.58245,"s":"Market Profile - Active"}]},"mark":{"type":"text","align":"right","baseline":"middle","font":"Liberation Sans","fontSize":16,"color":"#1F1FD0"},"encoding":{
"x":{"field":"i","type":"quantitative","axis":{"title":null},"scale":{"domain":[-0.325,377.675],"nice":false,"zero":false,"padding":0}},
"y":{"field":"p","type":"quantitative","axis":{"title":null,"orient":"right"},"scale":{"domain":[0.58121,0.611376],"nice":false,"zero":false}},
"text":{"field":"s"}}},
{"data":{"values":[{"i":1.3,"p":0.61105},{"i":300.7,"p":0.61135}]},"mark":{"type":"point","filled":true,"opacity":1},"encoding":{
"x":{"field":"i","type":"quantitative","axis":{"title":null},"scale":{"domain":[-0.325,377.675],"nice":false,"zero":false,"padding":0}},
"y":{"field":"p","type":"quantitative","axis":{"title":null,"orient":"right"},"scale":{"domain":[0.58121,0.611376],"nice":false,"zero":false}},
"shape":{"condition":{"test":"datum.i<10","value":"triangle-down"},"value":"diamond"},
"size":{"condition":{"test":"datum.i<10","value":45},"value":130},
"fill":{"condition":{"test":"datum.i<10","value":"#000000"},"value":"#bdbdbd"}}},
{"data":{"values":[{"i":4.2,"p":0.61097,"s":"AUDCHF,H4  0.59966 0.60015 0.59882 0.59932"}]},"mark":{"type":"text","align":"left","baseline":"middle","font":"Noto Sans","fontSize":14,"color":"#000000"},"encoding":{
"x":{"field":"i","type":"quantitative","axis":{"title":null},"scale":{"domain":[-0.325,377.675],"nice":false,"zero":false,"padding":0}},
"y":{"field":"p","type":"quantitative","axis":{"title":null,"orient":"right"},"scale":{"domain":[0.58121,0.611376],"nice":false,"zero":false}},
"text":{"field":"s"}}},
{"data":{"name":"panel"},"mark":{"type":"rect","fill":"#A9ACD0","stroke":"#8A8CA4","strokeWidth":2},"encoding":{
"x":{"field":"a","type":"quantitative","axis":{"title":null},"scale":{"domain":[-0.325,377.675],"nice":false,"zero":false,"padding":0}},"x2":{"field":"b"},
"y":{"field":"hi","type":"quantitative","axis":{"title":null,"orient":"right"},"scale":{"domain":[0.58121,0.611376],"nice":false,"zero":false}},"y2":{"field":"lo"}}},
{"data":{"name":"buttons"},"mark":{"type":"rect","stroke":"#808080","strokeWidth":1.5},"encoding":{
"x":{"field":"a","type":"quantitative","axis":{"title":null},"scale":{"domain":[-0.325,377.675],"nice":false,"zero":false,"padding":0}},"x2":{"field":"b"},
"y":{"field":"hi","type":"quantitative","axis":{"title":null,"orient":"right"},"scale":{"domain":[0.58121,0.611376],"nice":false,"zero":false}},"y2":{"field":"lo"},
"color":{"field":"k","type":"nominal","legend":null}}},
{"data":{"name":"buttontext"},"mark":{"type":"text","align":"center","baseline":"middle","font":"Noto Sans","fontSize":11.5,"color":"#E8E8E8"},"encoding":{
"x":{"field":"i","type":"quantitative","axis":{"title":null},"scale":{"domain":[-0.325,377.675],"nice":false,"zero":false,"padding":0}},
"y":{"field":"p","type":"quantitative","axis":{"title":null,"orient":"right"},"scale":{"domain":[0.58121,0.611376],"nice":false,"zero":false}},
"text":{"field":"s"}}},
{"data":{"values":[{"i":42,"p":0.60975,"s":"TradeCZ.cz"}]},"mark":{"type":"text","align":"center","baseline":"middle","font":"DejaVu Sans","fontWeight":"bold","fontSize":24,"color":"#DC143C"},"encoding":{
"x":{"field":"i","type":"quantitative","axis":{"title":null},"scale":{"domain":[-0.325,377.675],"nice":false,"zero":false,"padding":0}},
"y":{"field":"p","type":"quantitative","axis":{"title":null,"orient":"right"},"scale":{"domain":[0.58121,0.611376],"nice":false,"zero":false}},
"text":{"field":"s"}}},
{"data":{"values":[{"i":79.8,"p":0.60985,"s":"X"}]},"mark":{"type":"text","align":"center","baseline":"middle","font":"Noto Sans","fontSize":16,"color":"#000000"},"encoding":{
"x":{"field":"i","type":"quantitative","axis":{"title":null},"scale":{"domain":[-0.325,377.675],"nice":false,"zero":false,"padding":0}},
"y":{"field":"p","type":"quantitative","axis":{"title":null,"orient":"right"},"scale":{"domain":[0.58121,0.611376],"nice":false,"zero":false}},
"text":{"field":"s"}}}
]
}
